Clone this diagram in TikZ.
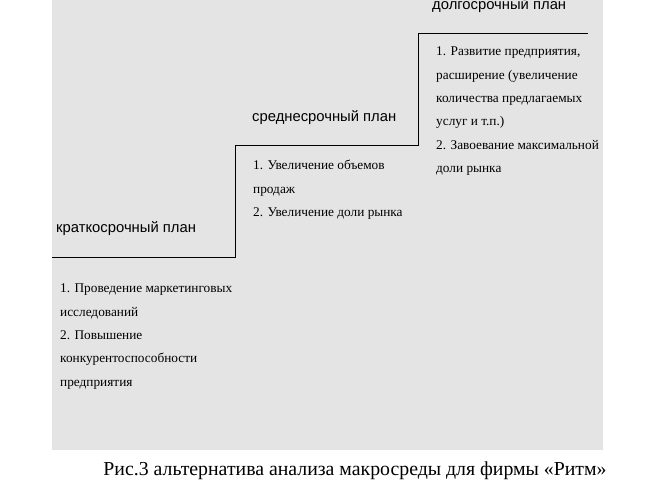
\documentclass[tikz,border=0pt]{standalone}
\usepackage{fontspec}
\setmainfont{Liberation Serif}
\newfontfamily\headfont{Liberation Sans}
\begin{document}
\begin{tikzpicture}[x=1pt,y=-1pt]
			\tikzstyle{plan}=[anchor=west, inner sep=0pt, font=\headfont\fontsize{14.8}{16}\selectfont]
			\tikzstyle{goals}=[anchor=north west, inner sep=0pt, align=left, font=\fontsize{13.3}{23.3}\selectfont]
			\def\W{660};
			\def\H{495};

			\useasboundingbox (0,0) rectangle (\W,\H);
			\fill [color={rgb,255:red,228;green,228;blue,228}] (52,0) rectangle (603,450);

			\begin{scope}
				\coordinate (s0) at (52,257);
				\coordinate (s1) at (235,257);
				\coordinate (s2) at (235,145);
				\coordinate (s3) at (418,145);
				\coordinate (s4) at (418,33);
				\coordinate (s5) at (588,33);
				\draw [line width=0.8pt] (s0) -- (s1) -- (s2) -- (s3) -- (s4) -- (s5);
			\end{scope}

			\begin{scope}
				\node (short) [plan] at (56,229) {краткосрочный план};
				\node (middle) [plan] at (252,118) {среднесрочный план};
				\node (long) [plan] at (432,6) {долгосрочный план};
			\end{scope}

			\begin{scope}
				\node (shortgoals) [goals] at (60,284) {1. Проведение маркетинговых\\исследований\\2. Повышение\\конкурентоспособности\\предприятия};
				\node (middlegoals) [goals] at (253,160) {1. Увеличение объемов\\продаж\\2. Увеличение доли рынка};
				\node (longgoals) [goals] at (436,47) {1. Развитие предприятия,\\расширение (увеличение\\количества предлагаемых\\услуг и т.п.)\\2. Завоевание максимальной\\доли рынка};
			\end{scope}

			\node (caption) [font=\fontsize{19.8}{22}\selectfont] at (355,471) {Рис.3 альтернатива анализа макросреды для фирмы «Ритм»};
		\end{tikzpicture}
\end{document}
